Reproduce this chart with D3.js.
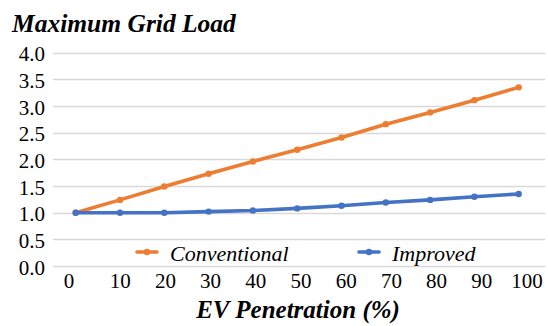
<!DOCTYPE html>
<html>
<head>
<meta charset="utf-8">
<script src="https://cdn.jsdelivr.net/npm/d3@7/dist/d3.min.js"></script>
</head>
<body style="margin:0">
<svg id="s" width="548" height="326"></svg>
<script>
// EV penetration levels (%)
const penetration = [0, 10, 20, 30, 40, 50, 60, 70, 80, 90, 100];
// Maximum grid load (per unit) for each charging strategy
const conventional = [1.00, 1.24, 1.49, 1.73, 1.96, 2.18, 2.41, 2.66, 2.88, 3.11, 3.35];
const improved     = [1.00, 1.00, 1.00, 1.02, 1.04, 1.08, 1.13, 1.19, 1.24, 1.30, 1.35];
const yTicks = [0, 0.5, 1.0, 1.5, 2.0, 2.5, 3.0, 3.5, 4.0];
const xTicks = [0, 10, 20, 30, 40, 50, 60, 70, 80, 90, 100];
const seriesNames = ["Conventional", "Improved"];
const seriesColors = ["#ED7D31", "#4472C4"];

const svg = d3.select("#s");
const serifText = sel => sel.style("font-family", '"Liberation Serif"');

const x = d3.scaleLinear().domain([0, 100]).range([75.7, 518.7]);
const xLabel = d3.scaleLinear().domain([0, 100]).range([75, 527]);
const y = d3.scaleLinear().domain([0, 4]).range([266, 52.7]);

// horizontal gridlines
svg.append("g")
  .selectAll("line")
  .data(yTicks)
  .join("line")
  .attr("x1", 53).attr("x2", 545)
  .attr("y1", d => Math.round(y(d)) + 0.5)
  .attr("y2", d => Math.round(y(d)) + 0.5)
  .attr("stroke", "#d9d9d9")
  .attr("stroke-width", 1.3);

// y axis labels
svg.append("g")
  .selectAll("text")
  .data(yTicks)
  .join("text")
  .attr("x", 45)
  .attr("y", d => y(d) + 8.5)
  .attr("text-anchor", "end")
  .attr("font-size", 21)
  .attr("fill", "#000")
  .call(serifText)
  .text(d3.format(".1f"));

// x axis labels
svg.append("g")
  .selectAll("text")
  .data(xTicks)
  .join("text")
  .attr("x", d => xLabel(d) + (d === 0 ? -6 : 0))
  .attr("y", 288)
  .attr("text-anchor", "middle")
  .attr("font-size", 21)
  .attr("fill", "#000")
  .call(serifText)
  .text(d3.format("d"));

// series lines and markers
const seriesData = [conventional, improved];
const line = d3.line().x((d, i) => x(penetration[i])).y(d => y(d));
seriesData.forEach((vals, s) => {
  svg.append("path")
    .datum(vals)
    .attr("d", line)
    .attr("fill", "none")
    .attr("stroke", seriesColors[s])
    .attr("stroke-width", 3.6)
    .attr("stroke-linejoin", "round")
    .attr("stroke-linecap", "round");
  svg.append("g")
    .selectAll("circle")
    .data(vals)
    .join("circle")
    .attr("cx", (d, i) => x(penetration[i]))
    .attr("cy", d => y(d))
    .attr("r", 3.2)
    .attr("fill", seriesColors[s]);
});

// legend
const legendX = [137, 359];
seriesNames.forEach((name, s) => {
  const g = svg.append("g").attr("transform", `translate(${legendX[s]},252)`);
  g.append("line").attr("x1", 0).attr("x2", 20).attr("y1", 0).attr("y2", 0)
    .attr("stroke", seriesColors[s]).attr("stroke-width", 3.6).attr("stroke-linecap", "round");
  g.append("circle").attr("cx", 10).attr("cy", 0).attr("r", 3.2).attr("fill", seriesColors[s]);
  g.append("text").attr("x", 33).attr("y", 8.5)
    .attr("font-size", 22).attr("font-style", "italic")
    .call(serifText)
    .attr("fill", "#000").text(name);
});

// titles
svg.append("text").attr("x", 12).attr("y", 31.5)
  .attr("font-size", 25.5).attr("font-style", "italic").attr("font-weight", "bold")
  .call(serifText)
  .attr("fill", "#000").text("Maximum Grid Load");

svg.append("text").attr("x", 298).attr("y", 318).attr("text-anchor", "middle")
  .attr("font-size", 25).attr("font-style", "italic").attr("font-weight", "bold")
  .call(serifText)
  .attr("fill", "#000").text("EV Penetration (%)");
</script>
</body>
</html>
